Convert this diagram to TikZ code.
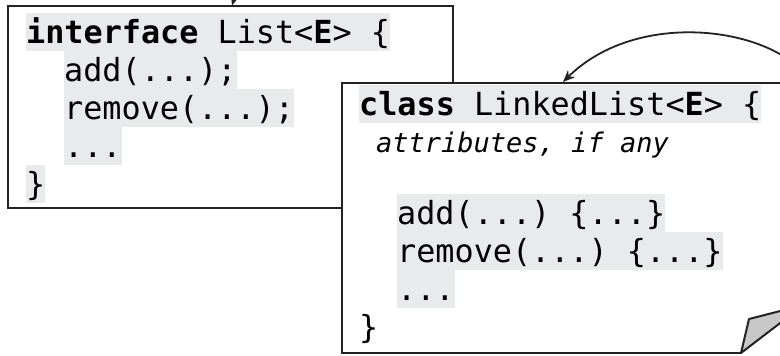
\documentclass[tikz,border=0pt]{standalone}
\usepackage{fontspec}
\setmonofont{DejaVu Sans Mono}
\usetikzlibrary{arrows.meta}
\definecolor{codebg}{HTML}{E8EAEB}
\definecolor{linecol}{HTML}{222222}
\definecolor{flapcol}{HTML}{C8C8C8}
\tikzset{
  code/.style={anchor=base west, inner sep=0pt, font=\fontsize{31.8}{38}\selectfont\ttfamily, text height=30pt, text depth=8pt},
  hl/.style={code, fill=codebg},
  note/.style={anchor=base west, inner sep=0pt, font=\fontsize{27}{32}\selectfont\ttfamily\itshape},
  box/.style={draw=linecol, line width=2pt, line join=miter},
  link/.style={draw=linecol, line width=1.8pt, -{Stealth[length=12pt,width=10pt]}},
}
\begin{document}
\begin{tikzpicture}[x=1pt,y=-1pt]
\useasboundingbox (0,0) rectangle (780,356);
\clip (0,0) rectangle (780,356);
% interface box
\draw[box, fill=white] (7.5,5.5) rectangle (452.5,208);
\coordinate (ifsrc) at (246,-40);
\coordinate (iftip) at (232,5.5);
\draw[link] (ifsrc) -- (iftip);
\node[hl] (i1) at (26,43) {\textbf{interface} List<\textbf{E}> \{};
\node[hl] (i2) at (64,81) {add(...);};
\node[hl] (i3) at (64,119) {remove(...);};
\node[hl] (i4) at (64,157) {...};
\node[hl] (i5) at (26,195) {\}};
% class box
\fill[white] (342,83) -- (810,83) -- (803.7,305) -- (741,353) -- (342,353) -- cycle;
\draw[box] (810,83) -- (342,83) -- (342,353) -- (741,353);
\filldraw[box, fill=flapcol, line join=round] (741,353) -- (749,319) -- (803.7,305) -- cycle;
\coordinate (clsrc) at (792,62);
\coordinate (cltip) at (563,82);
\draw[link] (clsrc) .. controls (742,24) and (630,16) .. (cltip);
\node[hl] (c1) at (359,115) {\textbf{class} LinkedList<\textbf{E}> \{};
\node[note] (c2) at (376,152) {attributes, if any};
\node[hl] (c3) at (397,224) {add(...) \{...\}};
\node[hl] (c4) at (397,262) {remove(...) \{...\}};
\node[hl] (c5) at (397,300) {...};
\node[code] (c6) at (359,338) {\}};
\end{tikzpicture}
\end{document}
